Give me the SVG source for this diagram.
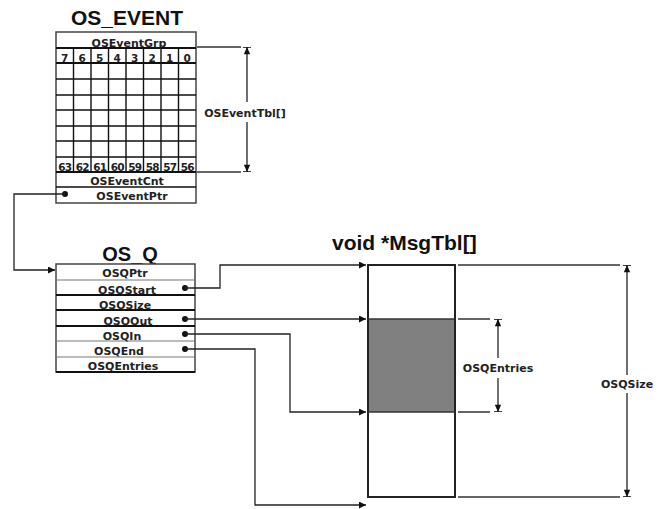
<svg xmlns="http://www.w3.org/2000/svg" width="664" height="509" viewBox="0 0 664 509">
<style>
.title{font-family:"Liberation Sans",Arial,sans-serif;font-weight:bold;fill:#111;}
.t{font-family:"DejaVu Sans","Liberation Sans",sans-serif;font-weight:bold;font-size:11px;fill:#222;text-anchor:middle;}
.d{font-family:"DejaVu Sans","Liberation Sans",sans-serif;font-weight:bold;font-size:10.5px;fill:#222;text-anchor:middle;}
.box{fill:#fff;stroke:#444;stroke-width:1.5;}
.g{stroke:#111;stroke-width:1.4;fill:none;}
.gt{stroke:#111;stroke-width:2;fill:none;}
.thin{stroke:#777;stroke-width:1.2;fill:none;}
.c{stroke:#222;stroke-width:1.3;fill:none;}
.ext{stroke:#333;stroke-width:1.3;fill:none;}
.dot{fill:#111;}
</style>
<defs>
<marker id="arr" viewBox="0 0 10 10" refX="10" refY="5" markerWidth="9" markerHeight="7" markerUnits="userSpaceOnUse" orient="auto">
<path d="M0,0 L10,5 L0,10 Z" fill="#111"/>
</marker>
<marker id="dim" viewBox="0 0 10 10" refX="10" refY="5" markerWidth="8" markerHeight="9" markerUnits="userSpaceOnUse" orient="auto">
<path d="M1,1 L10,5 L1,9 Z" fill="#111"/>
<path d="M10,0 L10,10" stroke="#111" stroke-width="2"/>
</marker>
</defs>

<g id="os_event">
<text class="title" x="127" y="25" font-size="21" text-anchor="middle">OS_EVENT</text>
<rect class="box" x="56" y="32" width="140" height="171"/>
<path class="gt" d="M56,48H196 M56,63H196 M56,172H196"/>
<path class="g" d="M56,79H196 M56,95H196 M56,110H196 M56,126H196 M56,141H196 M56,157H196 M56,187H196"/>
<path class="g" d="M73.5,48V172 M91,48V172 M108.5,48V172 M126,48V172 M143.5,48V172 M161,48V172 M178.5,48V172"/>
<text class="t" x="129" y="47">OSEventGrp</text>
<g class="d">
<text x="64.7" y="62">7</text><text x="82.2" y="62">6</text><text x="99.7" y="62">5</text><text x="117.2" y="62">4</text>
<text x="134.7" y="62">3</text><text x="152.2" y="62">2</text><text x="169.7" y="62">1</text><text x="187.2" y="62">0</text>
<text x="64.7" y="171" letter-spacing="-0.8">63</text><text x="82.2" y="171" letter-spacing="-0.8">62</text><text x="99.7" y="171" letter-spacing="-0.8">61</text><text x="117.2" y="171" letter-spacing="-0.8">60</text>
<text x="134.7" y="171" letter-spacing="-0.8">59</text><text x="152.2" y="171" letter-spacing="-0.8">58</text><text x="169.7" y="171" letter-spacing="-0.8">57</text><text x="187.2" y="171" letter-spacing="-0.8">56</text>
</g>
<text class="t" x="127" y="185">OSEventCnt</text>
<text class="t" x="132" y="200">OSEventPtr</text>
<circle class="dot" cx="65" cy="194" r="3"/>
</g>

<g id="os_q">
<text class="title" x="130" y="261" font-size="20" text-anchor="middle">OS_Q</text>
<rect class="box" x="56" y="264" width="139" height="108"/>
<path class="thin" d="M56,280H195 M56,341H195 M56,357H195"/>
<path class="gt" d="M56,295H195 M56,310H195 M56,326H195 M56,372H195"/>
<text class="t" x="125" y="277">OSQPtr</text>
<text class="t" x="127" y="294">OSQStart</text>
<text class="t" x="125" y="309">OSQSize</text>
<text class="t" x="128" y="325">OSQOut</text>
<text class="t" x="122" y="340">OSQIn</text>
<text class="t" x="119" y="355">OSQEnd</text>
<text class="t" x="123" y="370">OSQEntries</text>
<circle class="dot" cx="185" cy="288" r="3"/>
<circle class="dot" cx="185" cy="319" r="3"/>
<circle class="dot" cx="185" cy="334" r="3"/>
<circle class="dot" cx="185" cy="349" r="3"/>
</g>

<g id="msgtbl">
<text class="title" x="332" y="250" font-size="21">void *MsgTbl[]</text>
<rect x="368" y="319" width="87" height="93" fill="#808080"/>
<rect x="368" y="265" width="87" height="232" fill="none" stroke="#222" stroke-width="2"/>
<path d="M368,319H455 M368,412H455" stroke="#333" stroke-width="1.3"/>
</g>

<g id="dimensions">
<path class="ext" d="M197,47H241 M197,172H241"/>
<path class="c" d="M247,102V47" marker-end="url(#dim)"/>
<path class="c" d="M247,122V172" marker-end="url(#dim)"/>
<text class="t" x="245" y="117">OSEventTbl[]</text>
<path class="ext" d="M458,319H490 M458,412H490"/>
<path class="c" d="M498,358V319" marker-end="url(#dim)"/>
<path class="c" d="M498,378V412" marker-end="url(#dim)"/>
<text class="t" x="498" y="372">OSQEntries</text>
<path class="ext" d="M458,265H620 M458,497H620"/>
<path class="c" d="M627,375V265" marker-end="url(#dim)"/>
<path class="c" d="M627,393V497" marker-end="url(#dim)"/>
<text class="t" x="627" y="388">OSQSize</text>
</g>

<g id="connectors">
<path class="c" d="M65,194H14V270H55" marker-end="url(#arr)"/>
<path class="c" d="M185,288H220V265H366" marker-end="url(#arr)"/>
<path class="c" d="M185,319H366" marker-end="url(#arr)"/>
<path class="c" d="M185,334H290V412H366" marker-end="url(#arr)"/>
<path class="c" d="M185,349H255V505H366" marker-end="url(#arr)"/>
</g>
</svg>
